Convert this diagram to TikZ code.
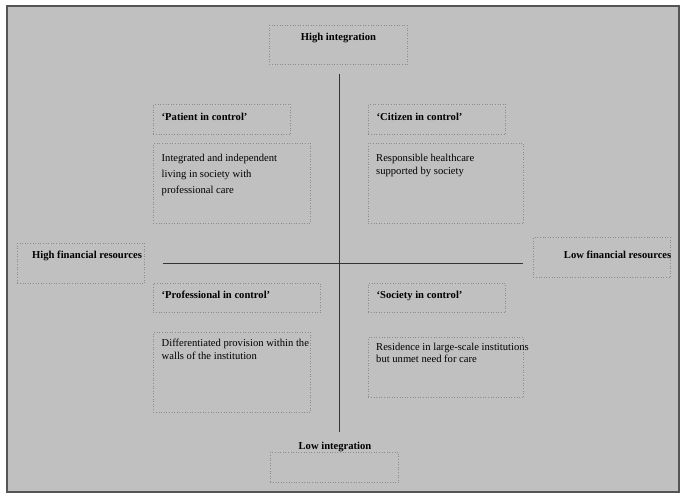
\documentclass[tikz,border=0pt]{standalone}
\usepackage{fontspec}
\setmainfont{Liberation Serif}
\definecolor{panelgray}{RGB}{192,192,192}
\definecolor{framegray}{RGB}{85,85,85}
\tikzstyle{box}=[draw=black!45,dotted,line width=0.6pt,inner sep=0pt,anchor=north west]
\tikzstyle{head}=[inner sep=0pt,font=\fontsize{10.6}{12}\selectfont\bfseries,anchor=base west]
\tikzstyle{body}=[inner sep=0pt,align=left,anchor=base west]
\tikzstyle{axis}=[draw=black!80,line width=0.9pt]

\begin{document}
\begin{tikzpicture}[x=1pt,y=-1pt]
          \useasboundingbox[fill=white] (0,0) rectangle (685,498);
          \draw[fill=panelgray,draw=framegray,line width=1.3pt] (7,6) rectangle (679,492);
          % boxes
          \node[box,minimum width=138pt,minimum height=39pt] (highbox) at (269,25) {};
          \node[box,minimum width=137pt,minimum height=30pt] (patientbox) at (153,104) {};
          \node[box,minimum width=137pt,minimum height=30pt] (citizenbox) at (368,104) {};
          \node[box,minimum width=157pt,minimum height=80pt] (patientbody) at (153,143) {};
          \node[box,minimum width=155pt,minimum height=80pt] (citizenbody) at (368,143) {};
          \node[box,minimum width=127pt,minimum height=40pt] (hifinbox) at (17,243) {};
          \node[box,minimum width=137pt,minimum height=40pt] (lofinbox) at (533,237) {};
          \node[box,minimum width=167pt,minimum height=29pt] (profbox) at (153,283) {};
          \node[box,minimum width=137pt,minimum height=29pt] (societybox) at (368,283) {};
          \node[box,minimum width=157pt,minimum height=80pt] (profbody) at (153,332) {};
          \node[box,minimum width=155pt,minimum height=60pt] (societybody) at (368,337) {};
          \node[box,minimum width=128pt,minimum height=30pt] (lowbox) at (270,452) {};
          % texts (base = last line)
          \node[head,anchor=base] (hightext) at (338.5,40) {High integration};
          \node[head] (patienttext) at (161.5,120) {‘Patient in control’};
          \node[head] (citizentext) at (376.5,120) {‘Citizen in control’};
          \node[head] (hifintext) at (32,258.5) {High financial resources};
          \node[head,anchor=base east] (lofintext) at (671.5,258.5) {Low financial resources};
          \node[head] (proftext) at (161.5,298) {‘Professional in control’};
          \node[head] (societytext) at (376.5,298) {‘Society in control’};
          \node[head,anchor=base] (lowtext) at (335,449) {Low integration};
          \node[body,font=\fontsize{10.6}{16}\selectfont] (patientdesc) at (161.5,193.5)
               {Integrated and independent\\living in society with\\professional care};
          \node[body,font=\fontsize{10.6}{13}\selectfont] (citizendesc) at (376,174.5)
               {Responsible healthcare\\supported by society};
          \node[body,font=\fontsize{10.6}{13.5}\selectfont] (profdesc) at (161.5,359.5)
               {Differentiated provision within the\\walls of the institution};
          \node[body,font=\fontsize{10.6}{12.5}\selectfont] (societydesc) at (376,362.5)
               {Residence in large-scale institutions\\but unmet need for care};
          % axes
          \coordinate (vtop) at (339,74);
          \coordinate (vbot) at (339,432);
          \coordinate (hleft) at (163,263);
          \coordinate (hright) at (523,263);
          \draw[axis] (vtop) -- (vbot);
          \draw[axis] (hleft) -- (hright);
        \end{tikzpicture}
\end{document}
